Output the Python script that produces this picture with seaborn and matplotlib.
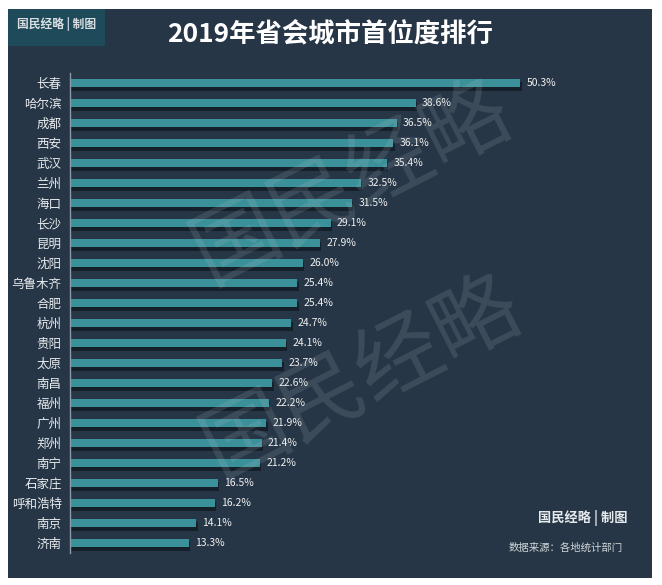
import matplotlib
matplotlib.use("Agg")
import matplotlib.pyplot as plt
import matplotlib.patheffects as pe
from matplotlib.patches import Rectangle
import seaborn as sns
import pandas as pd

cities = ["长春", "哈尔滨", "成都", "西安", "武汉", "兰州", "海口", "长沙", "昆明", "沈阳",
          "乌鲁木齐", "合肥", "杭州", "贵阳", "太原", "南昌", "福州", "广州", "郑州", "南宁",
          "石家庄", "呼和浩特", "南京", "济南"]
values = [50.3, 38.6, 36.5, 36.1, 35.4, 32.5, 31.5, 29.1, 27.9, 26.0,
          25.4, 25.4, 24.7, 24.1, 23.7, 22.6, 22.2, 21.9, 21.4, 21.2,
          16.5, 16.2, 14.1, 13.3]
title = "2019年省会城市首位度排行"
source = "数据来源：各地统计部门"
brand = "国民经略 | 制图"
watermark = "国民经略"

df = pd.DataFrame({"city": cities, "value": values})

sns.set_theme(style="dark")
plt.rcParams["font.family"] = ["Noto Sans CJK SC", "DejaVu Sans"]
plt.rcParams["axes.unicode_minus"] = False

BG = "#263646"
BAR = "#3b9199"
W, H = 662, 585
fig = plt.figure(figsize=(W / 100, H / 100), dpi=100, facecolor="white")

# dark panel
fig.patches.append(Rectangle((8 / W, 1 - 578 / H), (652 - 8) / W, (578 - 9) / H,
                             transform=fig.transFigure, facecolor=BG, edgecolor="none", zorder=-2))
# logo box
fig.patches.append(Rectangle((8 / W, 1 - 46 / H), (105 - 8) / W, (46 - 9) / H,
                             transform=fig.transFigure, facecolor="#1e4a5a", edgecolor="none", zorder=-1))

ax = fig.add_axes([70 / W, 1 - 553 / H, 540 / W, 480 / H])
ax.set_zorder(2)
ax.set_facecolor("none")
ax.patch.set_alpha(0)
sns.barplot(data=df, y="city", x="value", order=cities, orient="h", color=BAR,
            width=0.42, ax=ax, saturation=1, linewidth=0, edgecolor="none")
for p in ax.patches:
    p.set_linewidth(0)
    p.set_path_effects([pe.SimplePatchShadow(offset=(1, -2.5), shadow_rgbFace="#0f1820", alpha=0.7),
                        pe.Normal()])
ax.set_xlim(0, 60.3)
ax.set_ylim(23.5, -0.5)
ax.set_xlabel("")
ax.set_ylabel("")
ax.set_xticks([])
ax.grid(False)
for s in ["top", "right", "bottom"]:
    ax.spines[s].set_visible(False)
ax.spines["left"].set_color("#8c9aa6")
ax.spines["left"].set_linewidth(1.0)
ax.tick_params(axis="y", length=0, pad=6, labelsize=9, labelcolor="#e8ecef")

for i, v in enumerate(values):
    ax.text(v + 0.7, i, f"{v:.1f}%", va="center", ha="left", color="#f0f0f0", fontsize=7.5)

# title
fig.text(330 / W, 1 - 34 / H, title, ha="center", va="center", color="white",
         fontsize=19, fontweight="bold")
fig.text(57 / W, 1 - 24 / H, brand, ha="center", va="center", color="#d8dee2",
         fontsize=8.5, fontweight="bold")

# bottom right
fig.text(583 / W, 1 - 518 / H, brand, ha="center", va="center", color="#e6eaed",
         fontsize=9.5, fontweight="bold")
fig.text(566 / W, 1 - 548 / H, source, ha="center", va="center", color="#d0d6da",
         fontsize=7.5)

# watermarks
for (cx, cy) in [(352, 183), (362, 378)]:
    fig.text(cx / W, 1 - cy / H, watermark, ha="center", va="center", color="#c8d2d8",
             alpha=0.14, fontsize=62, fontweight="normal", rotation=27,
             rotation_mode="anchor", zorder=5)

fig.savefig("out.png", dpi=100, facecolor="white")
